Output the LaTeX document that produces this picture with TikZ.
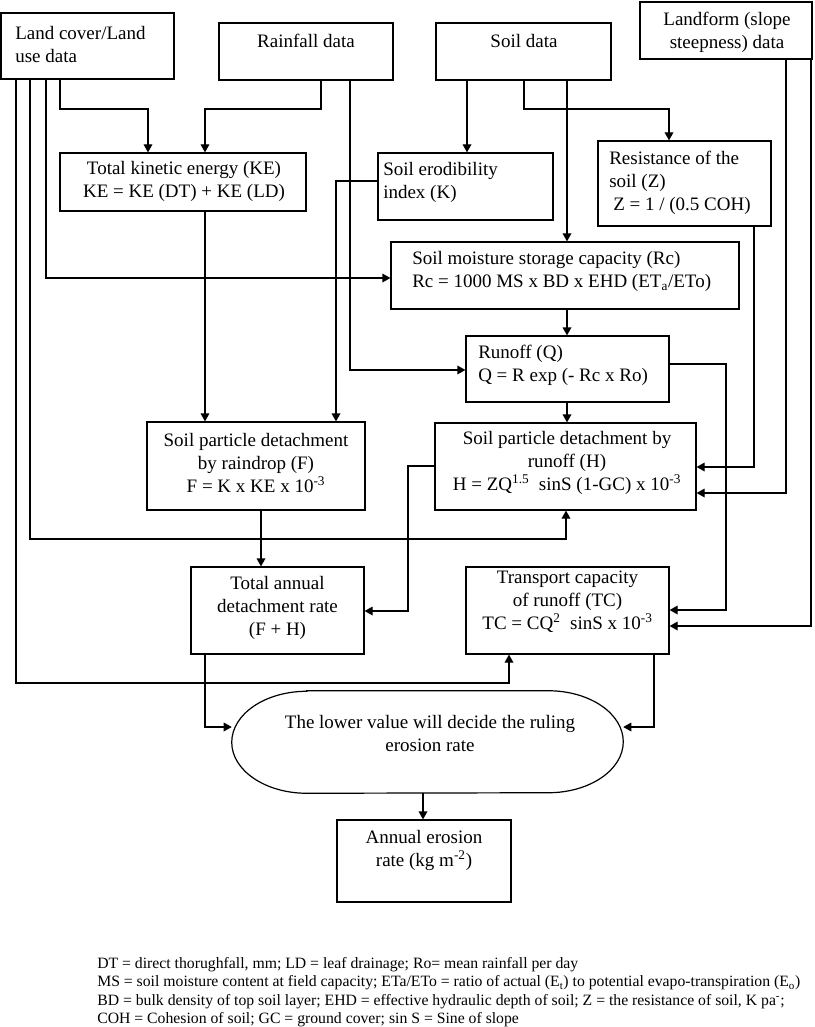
\documentclass[tikz,border=0pt]{standalone}
\usepackage{fontspec}
\setmainfont{Liberation Serif}
\usetikzlibrary{arrows.meta,fit,calc}
\begin{document}
\begin{tikzpicture}[x=0.75pt,y=-0.75pt,
  box/.style={draw, line width=0.9pt, inner sep=0pt},
  txt/.style={inner sep=0pt, font=\fontsize{14.25pt}{17.25pt}\selectfont},
  arr/.style={line width=0.9pt, -{Triangle[length=6pt,width=6.5pt]}}]
\fill[white] (0,0) rectangle (814,1027);
\useasboundingbox (0,0) rectangle (814,1027);
% boxes
\node[box, fit={(1,13) (174,79)}] (land) {};
\node[box, fit={(219,23) (393,80)}] (rain) {};
\node[box, fit={(436,23) (611,80)}] (soil) {};
\node[box, fit={(640,2) (812,59)}] (landf) {};
\node[box, fit={(60,153) (306,211)}] (ke) {};
\node[box, fit={(378,153) (553,220)}] (erod) {};
\node[box, fit={(598,141) (771,226)}] (resist) {};
\node[box, fit={(391,242) (739,309)}] (moist) {};
\node[box, fit={(466,336) (669,402)}] (runoff) {};
\node[box, fit={(435,423) (696,510)}] (hbox) {};
\node[box, fit={(147,422) (365,510)}] (fbox) {};
\node[box, fit={(191,567) (364,654)}] (total) {};
\node[box, fit={(466,567) (669,654)}] (tc) {};
\node[inner sep=0pt, fit={(232,691) (623,793)}] (rule) {};
\node[box, fit={(337,820) (511,902)}] (annual) {};
\draw[line width=0.9pt] ($(rule.north west)+(75,0)$) -- ($(rule.north east)+(-75,0)$)
  arc[start angle=90,end angle=-90,x radius=56.25pt,y radius=38.25pt]
  -- ($(rule.south west)+(75,0)$)
  arc[start angle=270,end angle=90,x radius=56.25pt,y radius=38.25pt] -- cycle;
% texts
\node[txt, align=left, anchor=west] (tland) at (15,45) {Land cover/Land\\use data};
\node[txt] (train) at (306,41) {Rainfall data};
\node[txt] (tsoil) at (524,41) {Soil data};
\node[txt, align=center] (tlandf) at (727,32) {Landform (slope\\steepness) data};
\node[txt, align=center] (tke) at (184,181.5) {Total kinetic energy (KE)\\KE = KE (DT) + KE (LD)};
\node[txt, align=left, anchor=west] (terod) at (383,182) {Soil erodibility\\index (K)};
\node[txt, align=left, anchor=west] (tresist) at (609,183) {Resistance of the\\soil (Z)\\\hspace*{3pt}Z = 1 / (0.5 COH)};
\node[txt, align=left, anchor=west] (tmoist) at (412,271.5) {Soil moisture storage capacity (Rc)\\Rc = 1000 MS x BD x EHD (ET\textsubscript{a}/ETo)};
\node[txt, align=left, anchor=west] (trunoff) at (478,365) {Runoff (Q)\\Q = R exp (- Rc x Ro)};
\node[txt, align=center] (th) at (567,463) {Soil particle detachment by\\runoff (H)\\H = ZQ\textsuperscript{1.5}\ \ sinS (1-GC) x 10\textsuperscript{-3}};
\node[txt, align=center] (tf) at (256,463) {Soil particle detachment\\by raindrop (F)\\F = K x KE x 10\textsuperscript{-3}};
\node[txt, align=center] (ttotal) at (277.5,608) {Total annual\\detachment rate\\(F + H)};
\node[txt, align=center] (ttc) at (567.5,602) {Transport capacity\\of runoff (TC)\\TC = CQ\textsuperscript{2}\ \ sinS x 10\textsuperscript{-3}};
\node[txt, align=center] (trule) at (430,733) {The lower value will decide the ruling\\erosion rate};
\node[txt, align=center] (tannual) at (424,850) {Annual erosion\\rate (kg m\textsuperscript{-2})};
\node[inner sep=0pt, align=left, anchor=north west, font=\fontsize{11.8pt}{13.9pt}\selectfont] (notes) at (97,957) {DT = direct thorughfall, mm; LD = leaf drainage; Ro= mean rainfall per day\\MS = soil moisture content at field capacity; ETa/ETo = ratio of actual (E\textsubscript{t}) to potential evapo-transpiration (E\textsubscript{o})\\BD = bulk density of top soil layer; EHD = effective hydraulic depth of soil; Z = the resistance of soil, K pa\textsuperscript{-};\\COH = Cohesion of soil; GC = ground cover; sin S = Sine of slope};
% helper coordinates
\foreach \x in {16,30,46,60,148,205,261,321,336,350,408,423,467,509,524,566,567,654,669,726,754,786,811}
  \coordinate (X\x) at (\x,0);
\foreach \y in {109,181,278,364,370,466,467,493,539,610,611,626,683,727}
  \coordinate (Y\y) at (0,\y);
% connectors
\draw[arr] (land.south -| X60) |- (X148 |- Y109) -- (ke.north -| X148);
\draw[arr] (rain.south -| X321) |- (X205 |- Y109) -- (ke.north -| X205);
\draw[arr] (rain.south -| X350) |- (runoff.west |- Y370);
\draw[arr] (land.south -| X46) |- (moist.west |- Y278);
\draw[arr] (land.south -| X30) |- (X566 |- Y539) -- (hbox.south -| X566);
\draw[arr] (land.south -| X16) |- (X509 |- Y683) -- (tc.south -| X509);
\draw[arr] (ke.south -| X205) -- (fbox.north -| X205);
\draw[arr] (erod.west |- Y181) -| (fbox.north -| X336);
\draw[arr] (soil.south -| X467) -- (erod.north -| X467);
\draw[arr] (soil.south -| X567) -- (moist.north -| X567);
\draw[arr] (soil.south -| X524) |- (X669 |- Y109) -- (resist.north -| X669);
\draw[arr] (resist.south -| X754) |- (hbox.east |- Y467);
\draw[arr] (landf.south -| X786) |- (hbox.east |- Y493);
\draw[arr] (landf.south -| X811) |- (tc.east |- Y626);
\draw[arr] (moist.south -| X567) -- (runoff.north -| X567);
\draw[arr] (runoff.south -| X567) -- (hbox.north -| X567);
\draw[arr] (runoff.east |- Y364) -| (X726 |- Y610) -- (tc.east |- Y610);
\draw[arr] (hbox.west |- Y466) -| (X408 |- Y611) -- (total.east |- Y611);
\draw[arr] (fbox.south -| X261) -- (total.north -| X261);
\draw[arr] (total.south -| X205) |- (rule.west |- Y727);
\draw[arr] (tc.south -| X654) |- (rule.east |- Y727);
\draw[arr] (rule.south -| X423) -- (annual.north -| X423);
\end{tikzpicture}
\end{document}
